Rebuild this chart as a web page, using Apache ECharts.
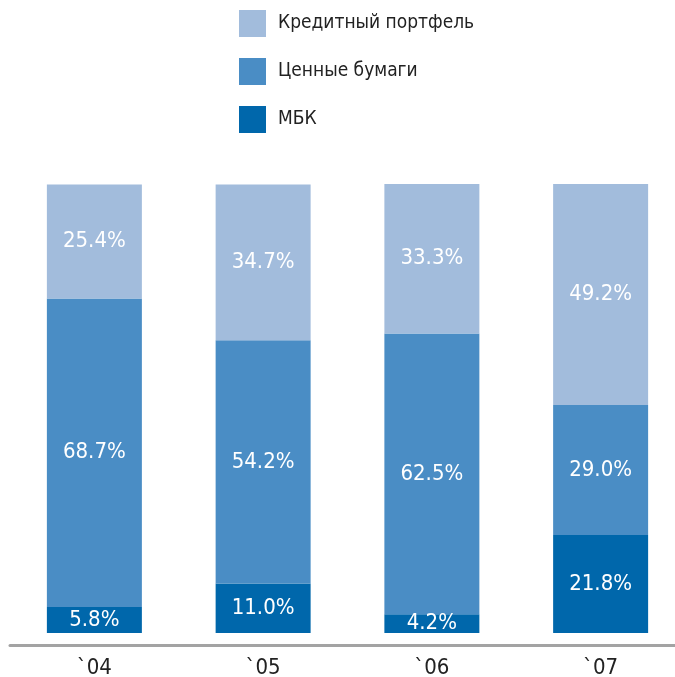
<!DOCTYPE html>
<html>
<head>
<meta charset="utf-8">
<script src="https://cdn.jsdelivr.net/npm/echarts@6/dist/echarts.min.js"></script>
<style>
  html, body { margin: 0; padding: 0; background: #ffffff; }
  #chart { width: 675px; height: 677px; }
</style>
</head>
<body>
<div id="chart"></div>
<script>
// Years on the category axis
const years = ['`04', '`05', '`06', '`07'];

// Portfolio structure, % of total
const mbk = [5.8, 11.0, 4.2, 21.8];          // МБК
const securities = [68.7, 54.2, 62.5, 29.0]; // Ценные бумаги
const loans = [25.4, 34.7, 33.3, 49.2];      // Кредитный портфель

const seriesNames = ['Кредитный портфель', 'Ценные бумаги', 'МБК'];

const FONT = '"Liberation Sans Narrow", "DejaVu Sans Condensed", "Liberation Sans", sans-serif';

const chart = echarts.init(document.getElementById('chart'), null, { renderer: 'canvas' });

function barSeries(name, data, color) {
  return {
    name: name,
    type: 'bar',
    stack: 'total',
    barWidth: 95,
    data: data,
    itemStyle: { color: color },
    label: {
      show: true,
      position: 'inside',
      color: '#ffffff',
      fontFamily: FONT,
      fontSize: 22,
      formatter: (p) => p.value.toFixed(1) + '%'
    },
    emphasis: { disabled: true }
  };
}

chart.setOption({
  animation: false,
  backgroundColor: '#ffffff',
  legend: {
    data: seriesNames,
    orient: 'vertical',
    left: 239,
    top: 10,
    padding: 0,
    itemWidth: 27,
    itemHeight: 27,
    itemGap: 21,
    icon: 'rect',
    selectedMode: false,
    textStyle: {
      fontFamily: FONT,
      fontSize: 19,
      color: '#222222',
      padding: [2, 0, 0, 7]
    }
  },
  grid: {
    left: 10,
    width: 675,
    top: 184,
    bottom: 44,
    containLabel: false,
    outerBoundsMode: 'none'
  },
  xAxis: {
    type: 'category',
    data: years,
    offset: 12,
    axisLine: { show: true, onZero: false, lineStyle: { color: '#a3a3a3', width: 3 } },
    axisTick: { show: false },
    axisLabel: {
      margin: 12,
      fontFamily: FONT,
      fontSize: 22,
      color: '#222222'
    }
  },
  yAxis: {
    type: 'value',
    min: 0,
    max: 100,
    show: false,
    splitLine: { show: false }
  },
  series: [
    barSeries('МБК', mbk, '#0067ab'),
    barSeries('Ценные бумаги', securities, '#4a8dc5'),
    barSeries('Кредитный портфель', loans, '#a2bcdc')
  ]
});
</script>
</body>
</html>
